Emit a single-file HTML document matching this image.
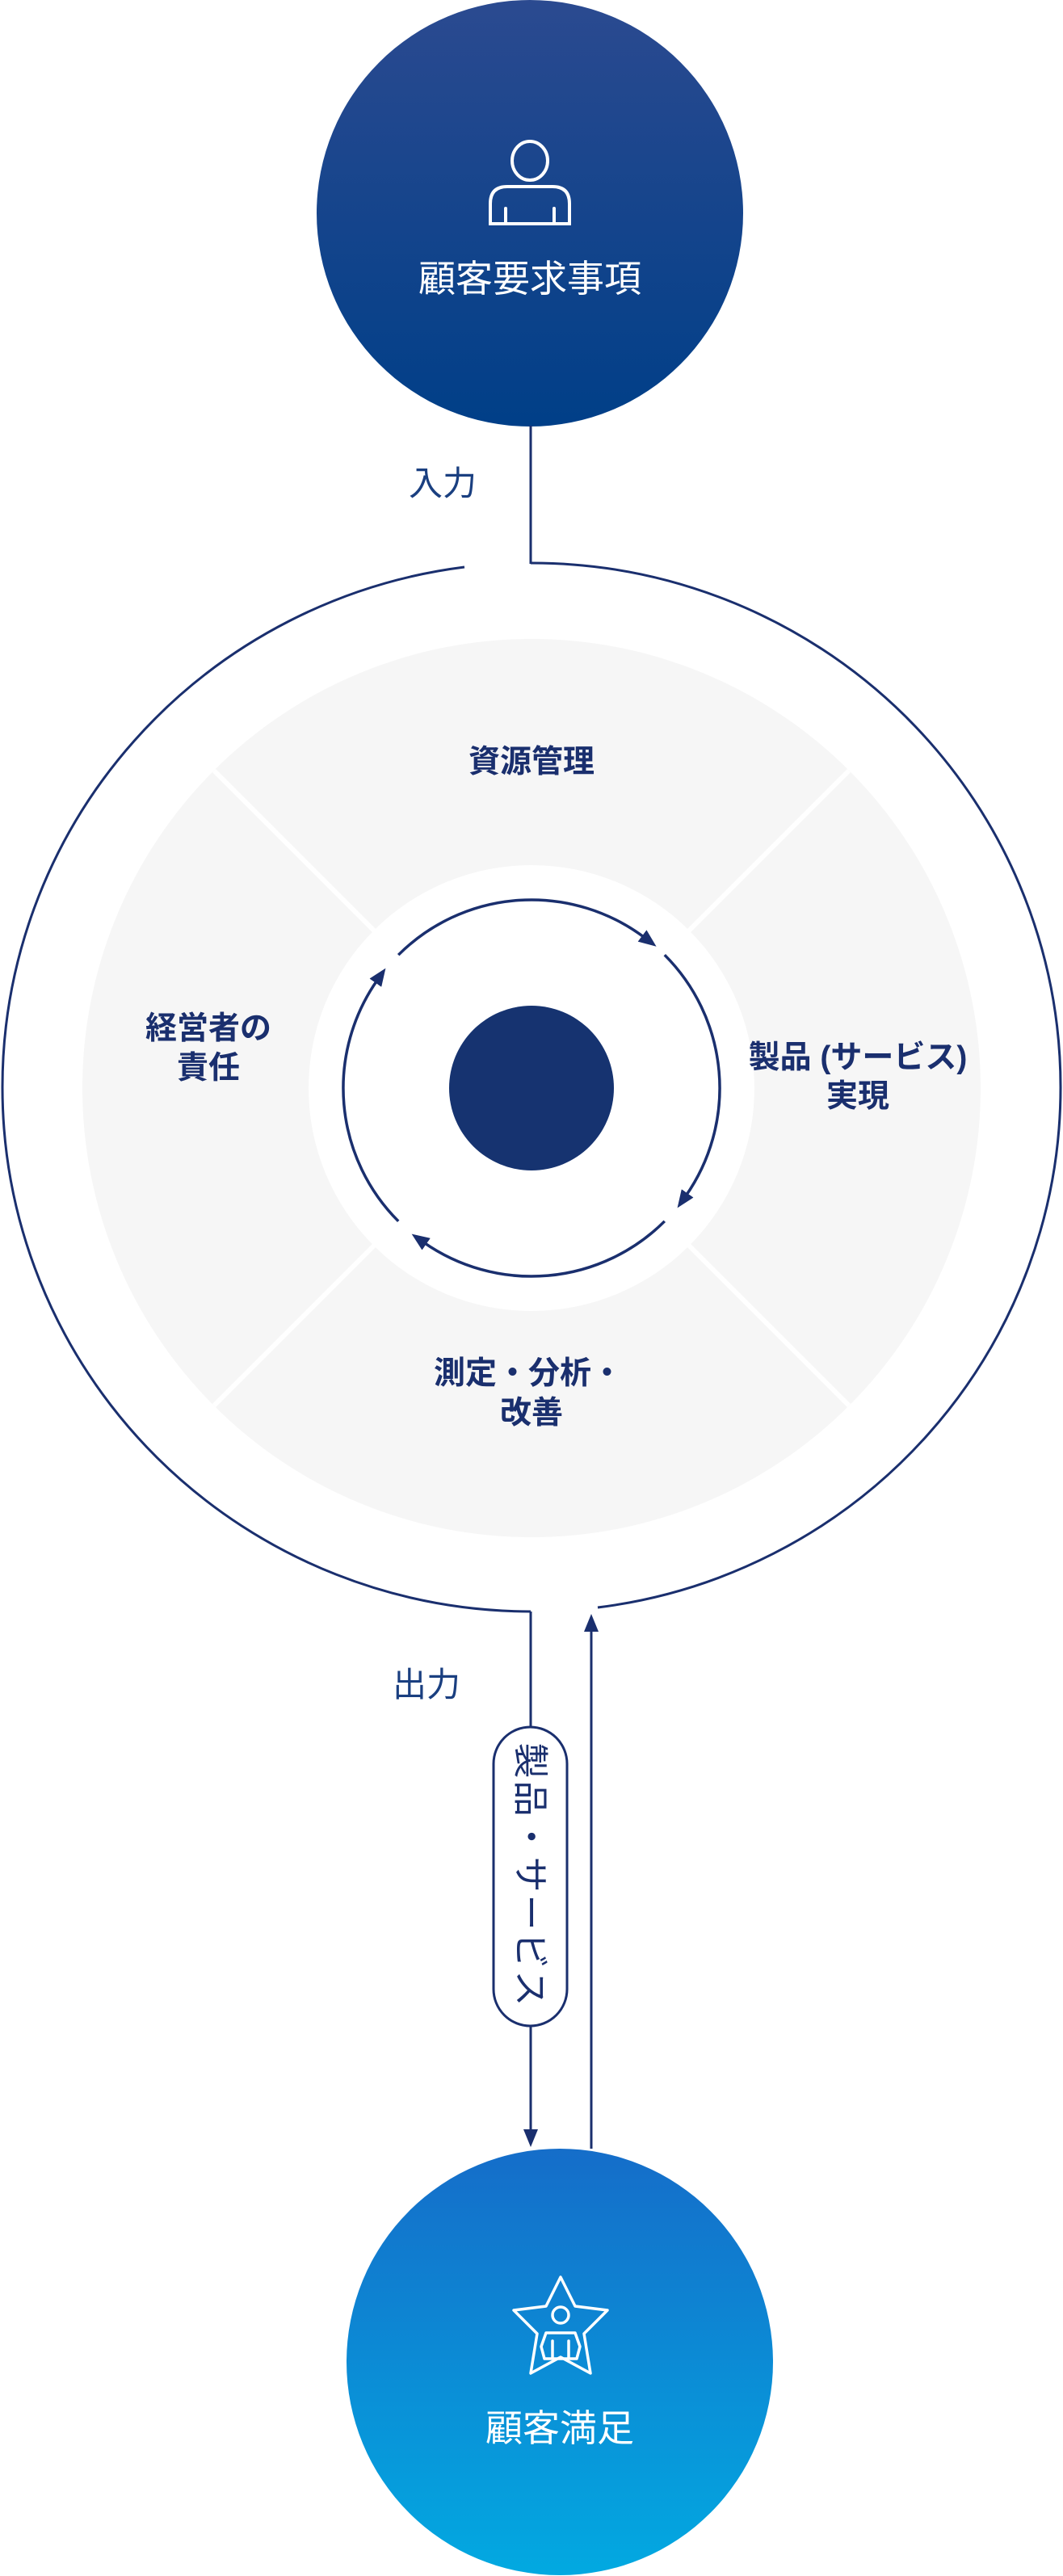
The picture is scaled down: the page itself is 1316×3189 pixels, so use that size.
<!DOCTYPE html>
<html><head><meta charset="utf-8"><style>
html,body{margin:0;padding:0;background:#fff;}
svg{display:block;}
text{font-family:"Liberation Sans","Noto Sans CJK JP",sans-serif;}
</style></head><body>
<svg width="1316" height="3189" viewBox="0 0 1316 3189" xmlns="http://www.w3.org/2000/svg">
<defs>
<linearGradient id="g1" x1="0" y1="0" x2="0" y2="1"><stop offset="0" stop-color="#2b4a90"/><stop offset="1" stop-color="#003f88"/></linearGradient>
<linearGradient id="g2" x1="0" y1="0" x2="0" y2="1"><stop offset="0" stop-color="#156dc9"/><stop offset="1" stop-color="#02a9e1"/></linearGradient>
<marker id="ah" markerUnits="userSpaceOnUse" markerWidth="22" markerHeight="18" refX="4" refY="9" orient="auto"><path d="M0,0 L22,9 L0,18 z" fill="#1a2f6e"/></marker>
</defs>
<!-- top circle -->
<circle cx="656" cy="264" r="264" fill="url(#g1)"/>
<g fill="none" stroke="#fff" stroke-width="4" stroke-linecap="round">
<ellipse cx="656" cy="199" rx="22" ry="24"/>
<path d="M607,277 L607,252 Q607,231 628,231 L684,231 Q705,231 705,252 L705,277 Z"/>
<line x1="626" y1="258" x2="626" y2="277"/><line x1="686" y1="258" x2="686" y2="277"/>
</g>
<text x="656" y="361" text-anchor="middle" font-size="46" fill="#fff">顧客要求事項</text>
<!-- input line -->
<line x1="657" y1="527" x2="657" y2="698" stroke="#1a2f6e" stroke-width="3"/>
<text x="548" y="613" text-anchor="middle" font-size="42" fill="#1a3f80">入力</text>
<!-- gray disc -->
<circle cx="658" cy="1347" r="556" fill="#f6f6f6"/>
<g stroke="#fff" stroke-width="6">
<line x1="853" y1="1152" x2="1051" y2="954"/>
<line x1="463" y1="1152" x2="265" y2="954"/>
<line x1="853" y1="1542" x2="1051" y2="1740"/>
<line x1="463" y1="1542" x2="265" y2="1740"/>
</g>
<circle cx="658" cy="1347" r="276" fill="#fff"/>
<circle cx="658" cy="1347" r="102" fill="#163370"/>
<!-- cycle arcs -->
<g fill="none" stroke="#1a2f6e" stroke-width="3.5" marker-end="url(#ah)">
<path d="M493.2,1182.2 A233,233 0 0 1 798.2,1160.9"/>
<path d="M822.8,1182.2 A233,233 0 0 1 848.9,1480.6"/>
<path d="M822.8,1511.8 A233,233 0 0 1 524.4,1537.9"/>
<path d="M493.2,1511.8 A233,233 0 0 1 467.1,1213.4"/>
</g>
<!-- labels -->
<g font-size="39" font-weight="bold" fill="#1a2f6e" text-anchor="middle">
<text x="658" y="956">資源管理</text>
<text x="258" y="1286">経営者の</text>
<text x="258" y="1335">責任</text>
<text x="1062" y="1322">製品 (サービス)</text>
<text x="1062" y="1370">実現</text>
<text x="654" y="1713">測定・分析・</text>
<text x="658" y="1762">改善</text>
</g>
<!-- outer circle -->
<g fill="none" stroke="#1a2f6e" stroke-width="3">
<path d="M657,697 A655,649 0 0 1 1313,1346 A655,649 0 0 1 740,1990"/>
<path d="M575,702 A655,649 0 0 0 3,1346 A655,649 0 0 0 657,1995"/>
</g>
<!-- output -->
<line x1="657" y1="1995" x2="657" y2="2138" stroke="#1a2f6e" stroke-width="3"/>
<text x="528" y="2100" text-anchor="middle" font-size="42" fill="#1a3f80">出力</text>
<rect x="611" y="2138" width="91" height="370" rx="45.5" fill="#fff" stroke="#1a2f6e" stroke-width="3"/>
<text x="0" y="0" transform="translate(656,2322) rotate(90)" font-size="44" fill="#1a2f6e" text-anchor="middle" dominant-baseline="central" letter-spacing="3">製品・サービス</text>
<line x1="657" y1="2508" x2="657" y2="2640" stroke="#1a2f6e" stroke-width="3" marker-end="url(#ah)"/>
<line x1="732" y1="2660" x2="732" y2="2016" stroke="#1a2f6e" stroke-width="3" marker-end="url(#ah)"/>
<!-- bottom circle -->
<circle cx="693" cy="2924" r="264" fill="url(#g2)"/>
<g fill="none" stroke="#fff" stroke-width="3.5" stroke-linejoin="round" stroke-linecap="round">
<polygon points="694,2819 712,2855 752,2860 723,2889 731,2938 694,2918 657,2938 665,2889 636,2860 676,2855"/>
<circle cx="694" cy="2866" r="10"/>
<path d="M670,2905 L676,2888 L712,2888 L718,2905 L714,2920 L674,2920 Z"/>
<line x1="684" y1="2898" x2="684" y2="2918"/><line x1="704" y1="2898" x2="704" y2="2918"/>
</g>
<text x="693" y="3022" text-anchor="middle" font-size="46" fill="#fff">顧客満足</text>
</svg>
</body></html>
